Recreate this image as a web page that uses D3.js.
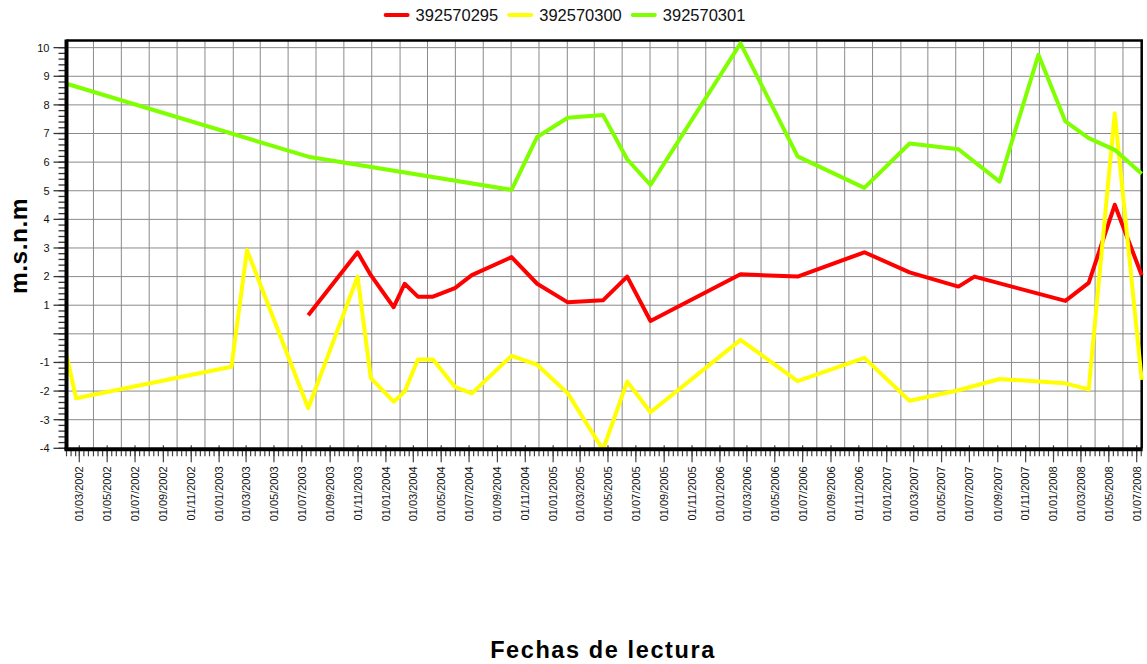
<!DOCTYPE html>
<html>
<head>
<meta charset="utf-8">
<script src="https://cdn.jsdelivr.net/npm/d3@7"></script>
<style>
  html, body { margin: 0; padding: 0; background: #fff; }
  svg { display: block; font-family: "Liberation Sans", Arial, sans-serif; }
</style>
</head>
<body>
<svg id="chart" width="1147" height="664"></svg>
<script>
// ---------- DATA ----------
const seriesNames = ["392570295", "392570300", "392570301"];
const seriesColors = ["#ff0000", "#ffff00", "#80ff00"];

const redDates = ["2003-07-15","2003-10-31","2003-11-29","2004-01-18","2004-02-11","2004-03-11","2004-04-13","2004-05-31","2004-07-07","2004-10-02","2004-11-27","2005-02-02","2005-04-20","2005-06-12","2005-08-02","2006-02-15","2006-06-20","2006-11-13","2007-02-20","2007-06-07","2007-07-12","2008-01-27","2008-03-18","2008-05-14","2008-07-12"];
const redValues = [0.65,2.85,2.05,0.93,1.75,1.3,1.3,1.6,2.05,2.68,1.75,1.1,1.17,2.0,0.45,2.08,2.0,2.85,2.15,1.65,2.0,1.15,1.78,4.51,2.05];

const yellowDates = ["2002-02-01","2002-02-22","2003-01-28","2003-03-03","2003-07-15","2003-10-31","2003-11-29","2004-01-18","2004-02-11","2004-03-11","2004-04-13","2004-05-31","2004-07-07","2004-10-02","2004-11-27","2005-02-02","2005-04-20","2005-06-12","2005-08-02","2006-02-15","2006-06-20","2006-11-13","2007-02-20","2007-06-07","2007-09-05","2008-01-27","2008-03-18","2008-05-14","2008-07-12"];
const yellowValues = [-0.74,-2.25,-1.15,2.93,-2.6,2.0,-1.55,-2.37,-2.02,-0.9,-0.9,-1.85,-2.08,-0.77,-1.08,-2.08,-4.05,-1.67,-2.74,-0.21,-1.65,-0.84,-2.34,-1.97,-1.58,-1.73,-1.94,7.71,-1.61];

const greenDates = ["2002-02-01","2003-07-15","2004-10-02","2004-11-27","2005-02-02","2005-04-20","2005-06-12","2005-08-02","2006-02-15","2006-06-20","2006-11-13","2007-02-20","2007-06-07","2007-09-05","2007-11-29","2008-01-27","2008-03-18","2008-05-14","2008-07-12"];
const greenValues = [8.74,6.19,5.03,6.88,7.55,7.65,6.1,5.2,10.15,6.2,5.1,6.65,6.45,5.32,9.75,7.42,6.84,6.43,5.59];

const yTickValues = [-4,-3,-2,-1,0,1,2,3,4,5,6,7,8,9,10];
const yTickLabels = ["-4","-3","-2","-1","","1","2","3","4","5","6","7","8","9","10"];
const xTickStart = "2002-03-01";
const xTickEnd = "2008-07-01";
const xTitle = "Fechas de lectura";
const yTitle = "m.s.n.m";

// ---------- LAYOUT ----------
const parse = d3.utcParse("%Y-%m-%d");
const fmt = d3.utcFormat("%d/%m/%Y");
const svg = d3.select("#chart");
const plot = { left: 66.5, right: 1141.7, top: 40.5, bottom: 448.3 };

const series = [
  { name: seriesNames[0], color: seriesColors[0], dates: redDates, values: redValues },
  { name: seriesNames[1], color: seriesColors[1], dates: yellowDates, values: yellowValues },
  { name: seriesNames[2], color: seriesColors[2], dates: greenDates, values: greenValues }
].map(s => ({ ...s, points: s.dates.map((d, i) => ({ date: parse(d), value: s.values[i] })) }));

const allDates = series.flatMap(s => s.points.map(p => p.date));
const x = d3.scaleUtc().domain(d3.extent(allDates)).range([plot.left, plot.right]);
const y = d3.scaleLinear().domain([-4, 10.25]).range([plot.bottom, plot.top]);

// gridlines
const gridColor = "#8a8a8a";
const vGridDates = d3.utcMonth.filter(d => d.getUTCMonth() % 2 === 1).range(x.domain()[0], x.domain()[1]);
svg.append("g").selectAll("line").data(vGridDates).join("line")
  .attr("x1", d => x(d)).attr("x2", d => x(d))
  .attr("y1", plot.top).attr("y2", plot.bottom)
  .attr("stroke", gridColor).attr("stroke-width", 1);
svg.append("g").selectAll("line").data(yTickValues.filter(v => v > -4)).join("line")
  .attr("x1", plot.left).attr("x2", plot.right)
  .attr("y1", d => y(d)).attr("y2", d => y(d))
  .attr("stroke", gridColor).attr("stroke-width", 1);

// top and right border
svg.append("path")
  .attr("d", `M${plot.left},${plot.top}H${plot.right}V${plot.bottom}`)
  .attr("fill", "none").attr("stroke", "#000").attr("stroke-width", 2.5);

// series lines
const line = d3.line().x(d => x(d.date)).y(d => y(d.value));
svg.append("g").selectAll("path").data(series).join("path")
  .attr("d", d => line(d.points))
  .attr("fill", "none")
  .attr("stroke", d => d.color)
  .attr("stroke-width", 4)
  .attr("stroke-linejoin", "round")
  .attr("stroke-linecap", "butt");

// Y axis
const yMinor = d3.range(-4, 10.001, 0.2).map(v => +v.toFixed(1));
const yAxisG = svg.append("g");
yAxisG.selectAll("line.minor").data(yMinor).join("line")
  .attr("x1", plot.left - 8).attr("x2", plot.left)
  .attr("y1", d => y(d)).attr("y2", d => y(d))
  .attr("stroke", "#333").attr("stroke-width", 1.3);
yAxisG.selectAll("line.major").data(yTickValues).join("line")
  .attr("x1", plot.left - 13).attr("x2", plot.left)
  .attr("y1", d => y(d)).attr("y2", d => y(d))
  .attr("stroke", "#333").attr("stroke-width", 1.3);
yAxisG.selectAll("text").data(yTickValues).join("text")
  .attr("x", plot.left - 17).attr("y", d => y(d))
  .attr("dy", "0.35em").attr("text-anchor", "end")
  .attr("font-size", 11).attr("fill", "#111")
  .text((d, i) => yTickLabels[i]);
yAxisG.append("line")
  .attr("x1", plot.left).attr("x2", plot.left)
  .attr("y1", plot.top - 1).attr("y2", plot.bottom + 2)
  .attr("stroke", "#000").attr("stroke-width", 4);

// X axis
const xAxisG = svg.append("g");
const xMinor = d3.utcDay.filter(d => [1, 11, 21].includes(d.getUTCDate())).range(x.domain()[0], d3.utcDay.offset(x.domain()[1], 1));
const xMajor = d3.utcMonth.every(2).range(parse(xTickStart), d3.utcDay.offset(parse(xTickEnd), 1));
xAxisG.selectAll("line.minor").data(xMinor).join("line")
  .attr("x1", d => x(d)).attr("x2", d => x(d))
  .attr("y1", plot.bottom).attr("y2", plot.bottom + 8)
  .attr("stroke", "#444").attr("stroke-width", 1.2);
xAxisG.selectAll("line.major").data(xMajor).join("line")
  .attr("x1", d => x(d)).attr("x2", d => x(d))
  .attr("y1", plot.bottom - 3).attr("y2", plot.bottom + 14)
  .attr("stroke", "#444").attr("stroke-width", 1.2);
xAxisG.append("line")
  .attr("x1", plot.left - 2).attr("x2", plot.right + 1)
  .attr("y1", plot.bottom + 1).attr("y2", plot.bottom + 1)
  .attr("stroke", "#000").attr("stroke-width", 4);
xAxisG.selectAll("text").data(xMajor).join("text")
  .attr("transform", d => `translate(${x(d)},${plot.bottom + 18}) rotate(-90)`)
  .attr("dy", "0.35em").attr("text-anchor", "end")
  .attr("font-size", 11).attr("fill", "#111")
  .text(d => fmt(d));

// Titles
svg.append("text")
  .attr("transform", `translate(27,246) rotate(-90)`)
  .attr("text-anchor", "middle")
  .attr("font-size", 24.5).attr("font-weight", "bold")
  .attr("letter-spacing", 0.5)
  .text(yTitle);
svg.append("text")
  .attr("x", 603).attr("y", 658)
  .attr("text-anchor", "middle")
  .attr("font-size", 23.5).attr("font-weight", "bold")
  .attr("letter-spacing", 1.6)
  .text(xTitle);

// Legend
const legend = svg.append("g");
let cx = 0;
const items = series.map(s => {
  const g = legend.append("g");
  g.append("line").attr("x1", 0).attr("x2", 22).attr("y1", 0).attr("y2", 0)
    .attr("stroke", s.color).attr("stroke-width", 4).attr("stroke-linecap", "round");
  const t = g.append("text").attr("x", 30).attr("dy", "0.36em")
    .attr("font-size", 16.5).attr("fill", "#111").text(s.name);
  const w = 30 + t.node().getComputedTextLength();
  g.attr("transform", `translate(${cx},15)`);
  cx += w + 11;
  return g;
});
const legendWidth = cx - 11;
legend.attr("transform", `translate(${565.5 - legendWidth / 2},0)`);
</script>
</body>
</html>
